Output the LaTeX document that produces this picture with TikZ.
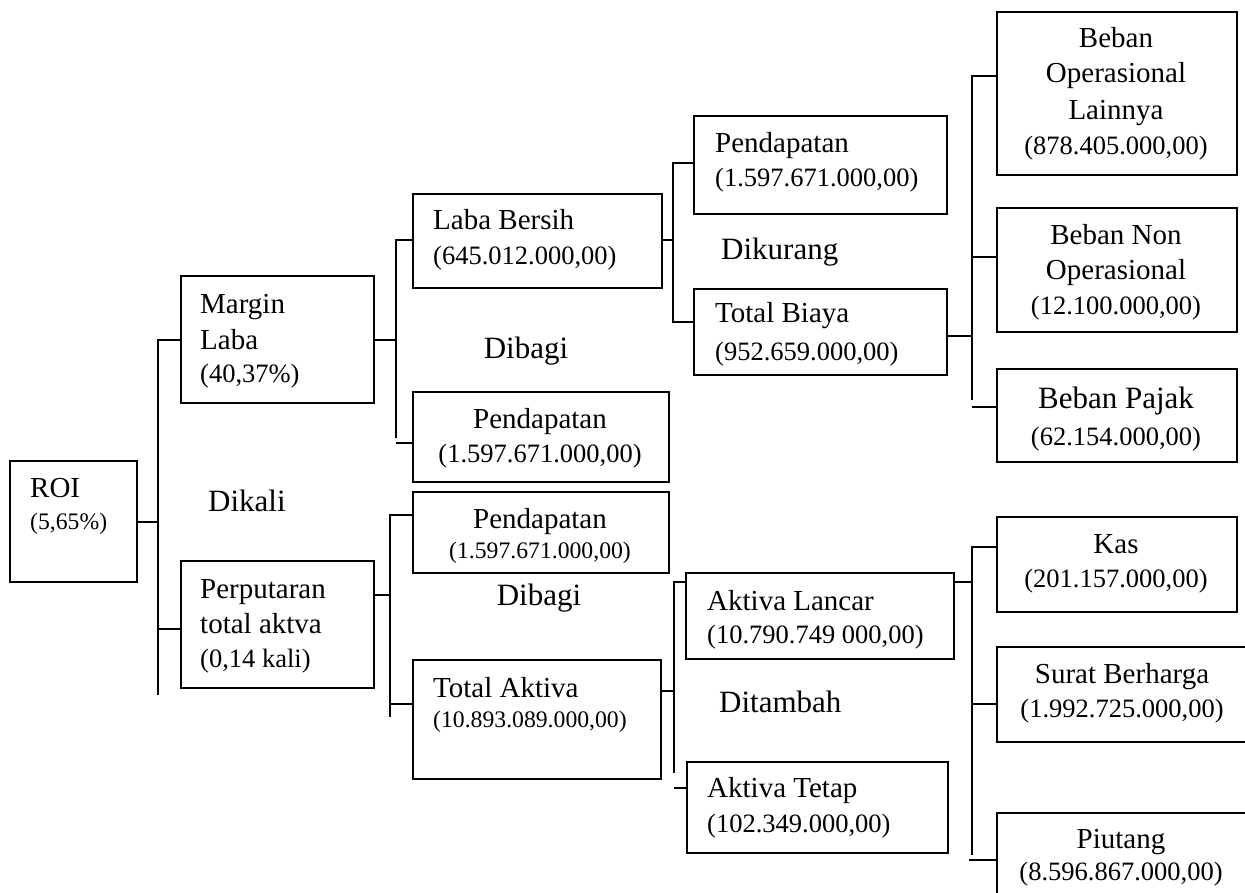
\documentclass[tikz,border=0pt]{standalone}
\usepackage{fontspec}
\setmainfont{Liberation Serif}
\newcommand\fNm{\fontsize{29}{34}\selectfont}
\newcommand\fNum{\fontsize{26.5}{32}\selectfont}
\newcommand\fSm{\fontsize{23.7}{28}\selectfont}
\newcommand\fOp{\fontsize{31}{36}\selectfont}
\tikzset{
  box/.style={draw, line width=1.6pt, rectangle, inner sep=0pt, anchor=north west},
  conn/.style={line width=1.6pt},
  lbl/.style={inner sep=0pt, anchor=base west},
  lblc/.style={inner sep=0pt, anchor=base},
}
\begin{document}
\begin{tikzpicture}[x=1pt,y=-1pt]
\useasboundingbox (0,0) rectangle (1245,893);
\clip (0,0) rectangle (1245,893);
\fill[white] (0,0) rectangle (1245,893);

% boxes
\node[box,minimum width=127,minimum height=121] (roi) at (9,460) {};
\node[box,minimum width=193,minimum height=127] (ml) at (180,275) {};
\node[box,minimum width=193,minimum height=127] (pt) at (180,560) {};
\node[box,minimum width=249,minimum height=94] (lb) at (412,193) {};
\node[box,minimum width=256,minimum height=90] (pd1) at (412,391) {};
\node[box,minimum width=256,minimum height=81] (pd2) at (412,491) {};
\node[box,minimum width=248,minimum height=119] (ta) at (412,659) {};
\node[box,minimum width=253,minimum height=98] (pd0) at (693,115) {};
\node[box,minimum width=253,minimum height=86] (tb) at (693,288) {};
\node[box,minimum width=268,minimum height=86] (al) at (685,572) {};
\node[box,minimum width=261,minimum height=91] (at) at (686,761) {};
\node[box,minimum width=240,minimum height=163] (bol) at (996,11) {};
\node[box,minimum width=240,minimum height=124] (bno) at (996,207) {};
\node[box,minimum width=240,minimum height=93] (bpj) at (996,368) {};
\node[box,minimum width=240,minimum height=95] (kas) at (996,516) {};
\node[box,minimum width=262,minimum height=95] (sb) at (996,646) {};
\node[box,minimum width=262,minimum height=100] (piu) at (996,812) {};

% bracket 1: ROI
\coordinate (j1) at (158,522);
\coordinate (j1t) at (158,340);
\coordinate (j1b) at (158,629);
\coordinate (j1e) at (158,695);
\draw[conn] (roi.east |- j1) -- (j1);
\draw[conn] (ml.west |- j1t) -- (j1t) -- (j1e);
\draw[conn] (j1b) -- (pt.west |- j1b);

% bracket 2: Margin Laba
\coordinate (j2) at (396,340);
\coordinate (j2t) at (396,240);
\coordinate (j2e) at (396,438);
\coordinate (j2b) at (396,443);
\draw[conn] (ml.east |- j2) -- (j2);
\draw[conn] (lb.west |- j2t) -- (j2t) -- (j2e);
\draw[conn] (j2b) -- (pd1.west |- j2b);

% bracket 3: Perputaran
\coordinate (j3) at (390,595);
\coordinate (j3t) at (390,515);
\coordinate (j3e) at (390,717);
\coordinate (j3b) at (390,704);
\draw[conn] (pt.east |- j3) -- (j3);
\draw[conn] (pd2.west |- j3t) -- (j3t) -- (j3e);
\draw[conn] (j3b) -- (ta.west |- j3b);

% bracket 4: Laba Bersih
\coordinate (j4) at (673,240);
\coordinate (j4t) at (673,163);
\coordinate (j4b) at (673,322);
\draw[conn] (lb.east |- j4) -- (j4);
\draw[conn] (pd0.west |- j4t) -- (j4t) -- (j4b) -- (tb.west |- j4b);

% bracket 5: Total Biaya
\coordinate (j5) at (972,336);
\coordinate (j5t) at (972,76);
\coordinate (j5m) at (972,257);
\coordinate (j5e) at (972,400);
\coordinate (j5b) at (972,407);
\draw[conn] (tb.east |- j5) -- (j5);
\draw[conn] (bol.west |- j5t) -- (j5t) -- (j5e);
\draw[conn] (j5m) -- (bno.west |- j5m);
\draw[conn] (j5b) -- (bpj.west |- j5b);

% bracket 6: Total Aktiva
\coordinate (j6) at (674,691);
\coordinate (j6t) at (674,582);
\coordinate (j6e) at (674,773);
\coordinate (j6b) at (674,788);
\draw[conn] (ta.east |- j6) -- (j6);
\draw[conn] (al.west |- j6t) -- (j6t) -- (j6e);
\draw[conn] (j6b) -- (at.west |- j6b);

% bracket 7: Aktiva Lancar
\coordinate (j7) at (972,582);
\coordinate (j7t) at (972,547);
\coordinate (j7m) at (972,704);
\coordinate (j7e) at (972,855);
\coordinate (j7b) at (969,860);
\draw[conn] (al.east |- j7) -- (j7);
\draw[conn] (kas.west |- j7t) -- (j7t) -- (j7e);
\draw[conn] (j7m) -- (sb.west |- j7m);
\draw[conn] (j7b) -- (piu.west |- j7b);

% texts
\node[lbl] (troi1) at (30,497) {\fNm ROI};
\node[lbl] (troi2) at (30,529) {\fSm (5,65\%)};

\node[lbl] (tml1) at (200,313) {\fNm Margin};
\node[lbl] (tml2) at (200,349) {\fNm Laba};
\node[lbl] (tml3) at (200,382) {\fNum (40,37\%)};

\node[lbl] (tpt1) at (200,598) {\fNm Perputaran};
\node[lbl] (tpt2) at (200,633) {\fNm total aktva};
\node[lbl] (tpt3) at (200,667) {\fNum (0,14 kali)};

\node[lbl] (opkali) at (208,511) {\fOp Dikali};

\node[lbl] (tlb1) at (433,230) {\fNm Laba Bersih};
\node[lbl] (tlb2) at (433,265) {\fNum (645.012.000,00)};

\node[lbl] (tpd01) at (715,153) {\fNm Pendapatan};
\node[lbl] (tpd02) at (715,187) {\fNum (1.597.671.000,00)};

\node[lbl] (opkurang) at (721,260) {\fOp Dikurang};

\node[lbl] (ttb1) at (715,323) {\fNm Total Biaya};
\node[lbl] (ttb2) at (715,360) {\fNum (952.659.000,00)};

\node[lblc] (opbagi1) at (526,359) {\fOp Dibagi};

\node[lblc] (tpd11) at (540,428) {\fNm Pendapatan};
\node[lblc] (tpd12) at (540,462) {\fNum (1.597.671.000,00)};

\node[lblc] (tpd21) at (540,528) {\fNm Pendapatan};
\node[lblc] (tpd22) at (540,558) {\fSm (1.597.671.000,00)};

\node[lblc] (opbagi2) at (539,605) {\fOp Dibagi};

\node[lbl] (tta1) at (433,697) {\fNm Total Aktiva};
\node[lbl] (tta2) at (433,727) {\fSm (10.893.089.000,00)};

\node[lbl] (tal1) at (707,610) {\fNm Aktiva Lancar};
\node[lbl] (tal2) at (707,643) {\fNum (10.790.749 000,00)};

\node[lbl] (optambah) at (719,712) {\fOp Ditambah};

\node[lbl] (tat1) at (707,797) {\fNm Aktiva Tetap};
\node[lbl] (tat2) at (707,832) {\fNum (102.349.000,00)};

\node[lblc] (tbol1) at (1116,48) {\fNm Beban};
\node[lblc] (tbol2) at (1116,83) {\fNm Operasional};
\node[lblc] (tbol3) at (1116,120) {\fNm Lainnya};
\node[lblc] (tbol4) at (1116,155) {\fNum (878.405.000,00)};

\node[lblc] (tbno1) at (1116,245) {\fNm Beban Non};
\node[lblc] (tbno2) at (1116,280) {\fNm Operasional};
\node[lblc] (tbno3) at (1116,315) {\fNum (12.100.000,00)};

\node[lblc] (tbpj1) at (1116,408) {\fOp Beban Pajak};
\node[lblc] (tbpj2) at (1116,445) {\fNum (62.154.000,00)};

\node[lblc] (tkas1) at (1116,553) {\fNm Kas};
\node[lblc] (tkas2) at (1116,587) {\fNum (201.157.000,00)};

\node[lblc] (tsb1) at (1122,683) {\fNm Surat Berharga};
\node[lblc] (tsb2) at (1122,717) {\fNum (1.992.725.000,00)};

\node[lblc] (tpiu1) at (1121,848) {\fNm Piutang};
\node[lblc] (tpiu2) at (1121,880) {\fNum (8.596.867.000,00)};
\end{tikzpicture}
\end{document}
